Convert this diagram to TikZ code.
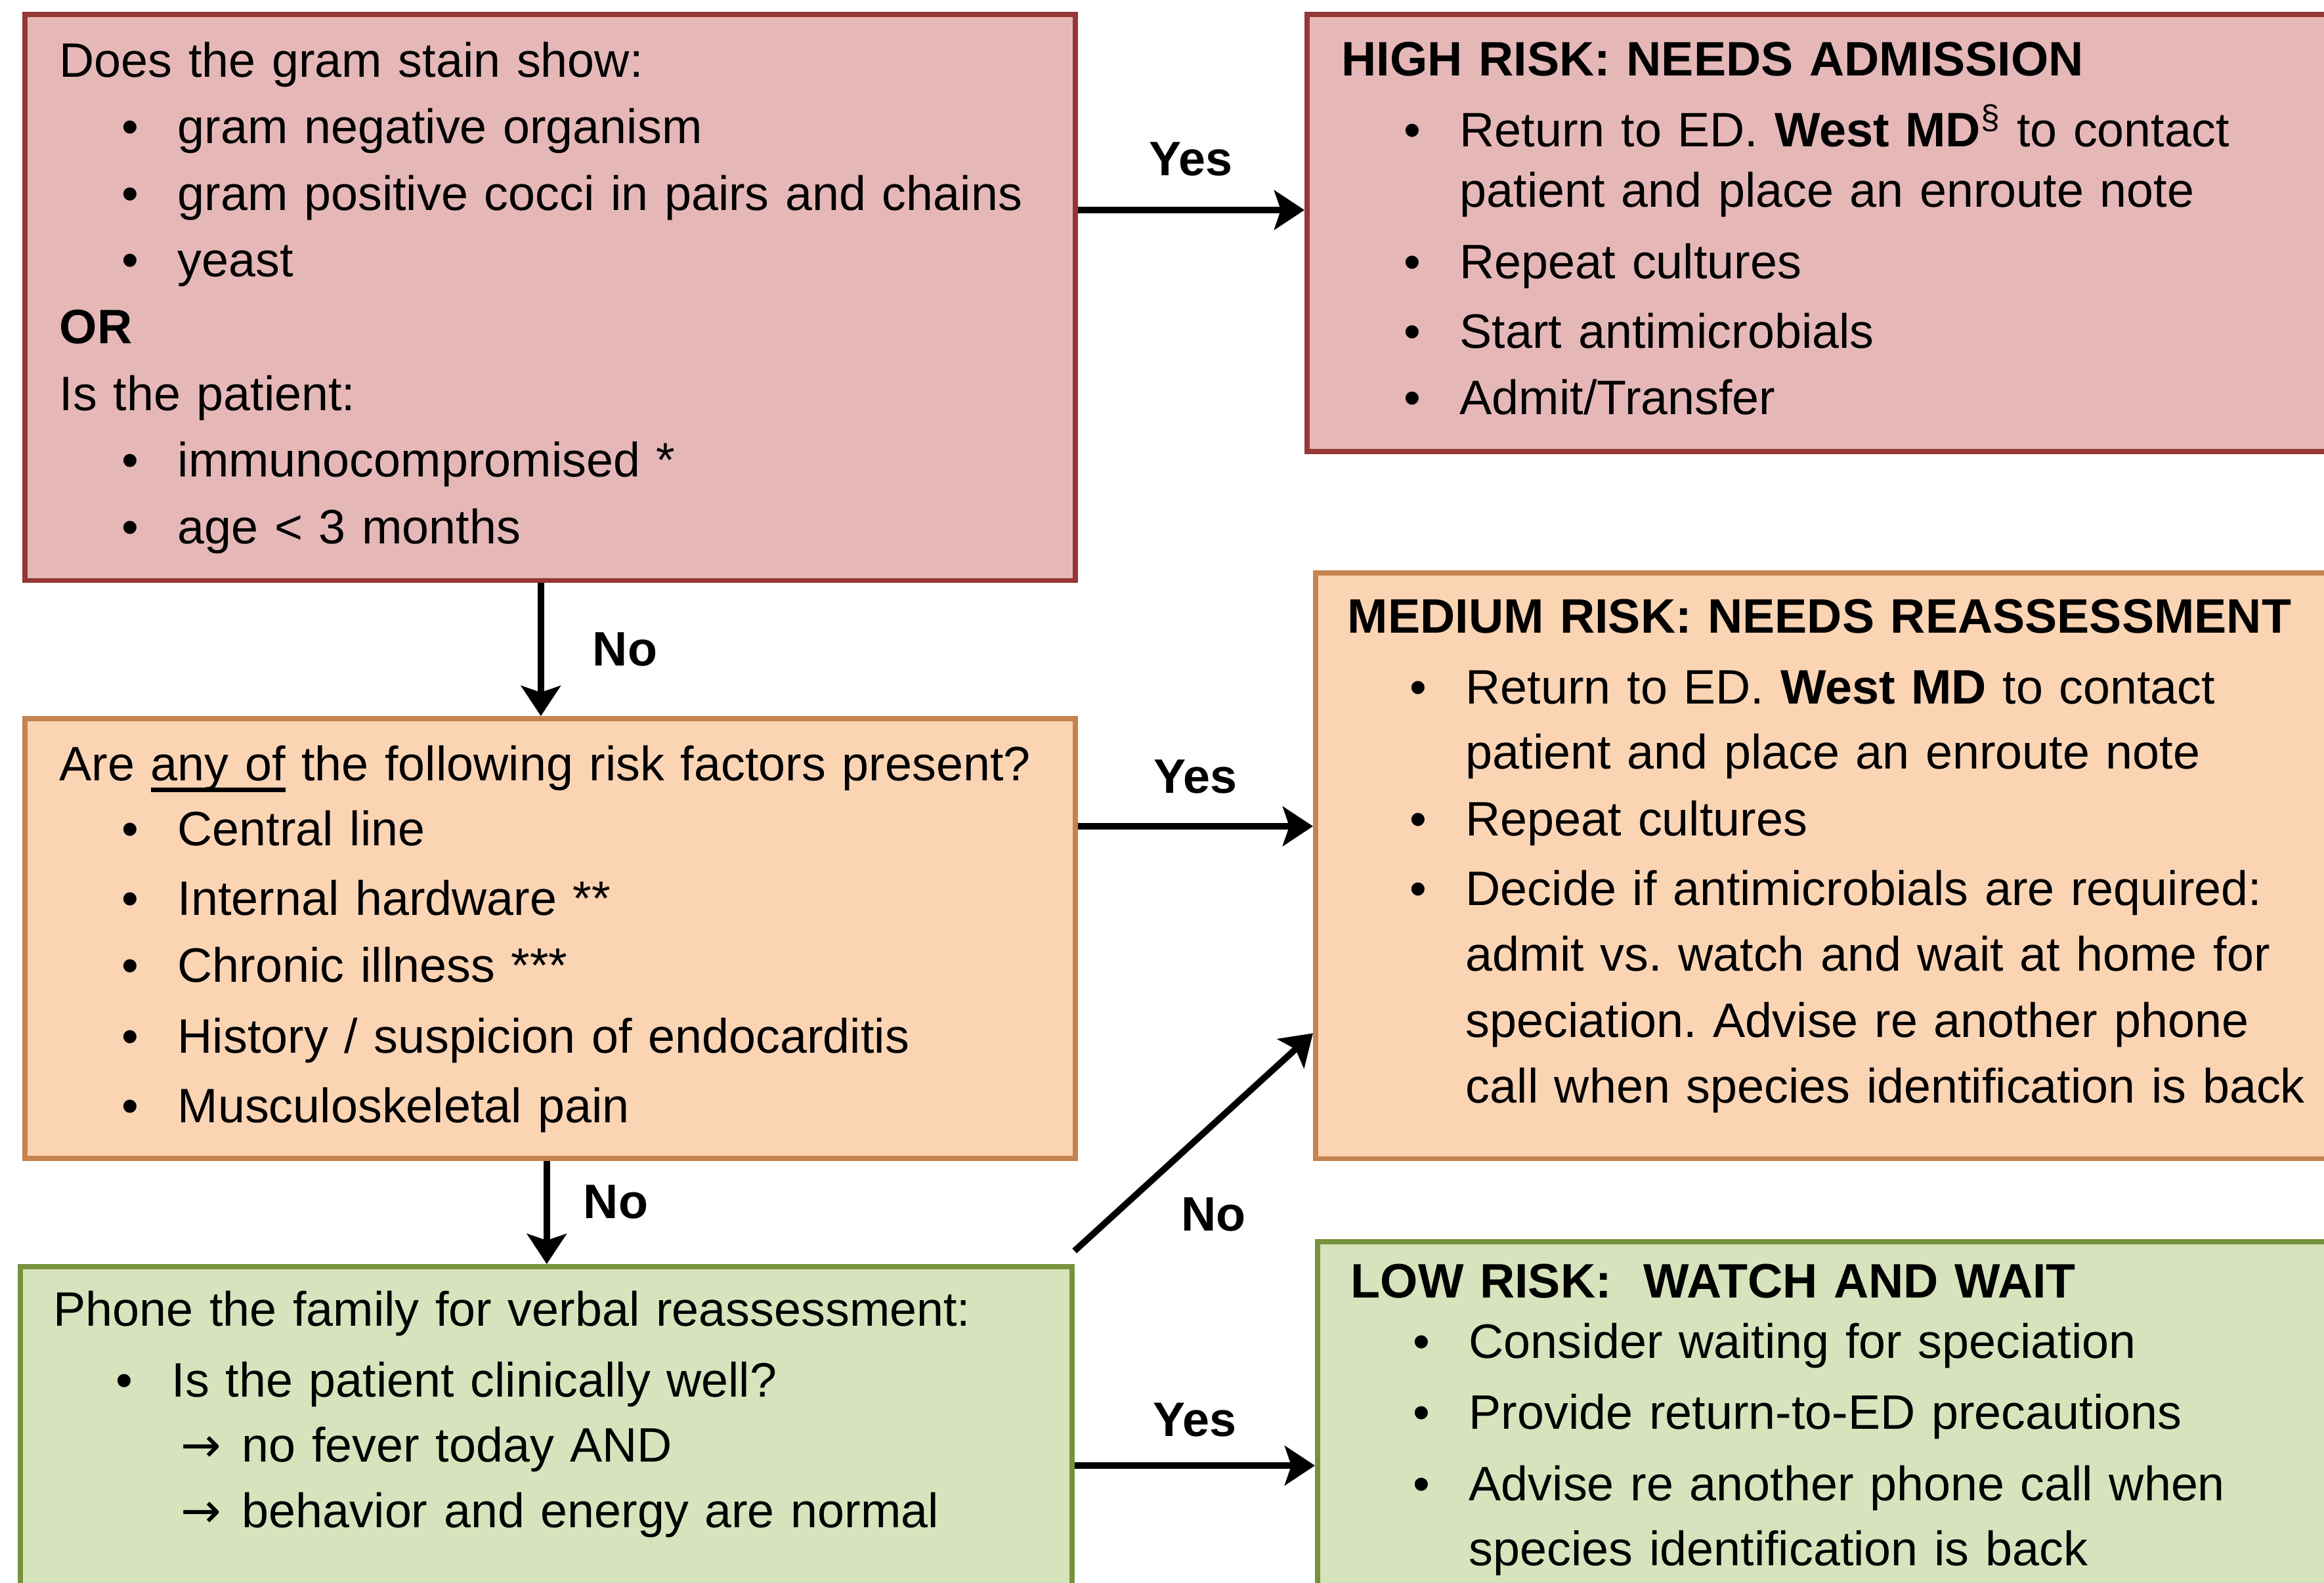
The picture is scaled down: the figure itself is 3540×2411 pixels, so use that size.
\documentclass[tikz,border=0pt]{standalone}
\usepackage{fontspec}
\setmainfont{Liberation Sans}
\newfontfamily\arrowfont{DejaVu Sans}
\usetikzlibrary{arrows.meta,positioning}

\definecolor{redline}{HTML}{953735}
\definecolor{redfill}{HTML}{E5B8B7}
\definecolor{orgline}{HTML}{C5834F}
\definecolor{orgfill}{HTML}{FBD4B4}
\definecolor{grnline}{HTML}{76923C}
\definecolor{grnfill}{HTML}{D7E3BC}

% bullet, continuation and arrow lines
\newcommand\bitem{\hspace*{0.95cm}\makebox[0.85cm][l]{\textbullet}}
\newcommand\bmore{\hspace*{1.80cm}}
\newcommand\barr{\hspace*{1.94cm}\makebox[0.93cm][l]{\arrowfont →}}
% thick underline
\newsavebox\ulbox
\newcommand\thickul[1]{\sbox\ulbox{#1}\rlap{\rule[-0.18cm]{\wd\ulbox}{0.07cm}}\usebox\ulbox}

\tikzset{
  box/.style={draw, line width=2.2pt, inner sep=0pt, anchor=north west},
  redbox/.style={box, draw=redline, fill=redfill},
  orgbox/.style={box, draw=orgline, fill=orgfill},
  grnbox/.style={box, draw=grnline, fill=grnfill},
  txt/.style={anchor=base west, inner sep=0pt, text width=16cm, align=left,
    font=\fontsize{20.96pt}{28.9pt}\selectfont\frenchspacing},
  lbl/.style={inner sep=0pt, font=\fontsize{20.96pt}{28.9pt}\selectfont\bfseries},
  arr/.style={-{Stealth[length=0.46cm,width=0.6cm,inset=0.1cm]}, line width=2.8pt}
}

\begin{document}
\begin{tikzpicture}[x=0.01cm, y=-0.01cm]
  \useasboundingbox (0,0) rectangle (3540,2411);
  \clip (0,0) rectangle (3540,2411);

  % boxes
  \node[redbox, minimum width=15.99cm, minimum height=8.62cm] (gram) at (34,18) {};
  \node[redbox, minimum width=16.13cm, minimum height=6.66cm] (high) at (1987,18) {};
  \node[orgbox, minimum width=15.99cm, minimum height=6.70cm] (risk) at (34,1091) {};
  \node[orgbox, minimum width=16.00cm, minimum height=8.92cm] (med) at (2000,869) {};
  \node[grnbox, minimum width=16.01cm, minimum height=6.00cm] (phone) at (27,1926) {};
  \node[grnbox, minimum width=15.97cm, minimum height=6.00cm] (low) at (2003,1888) {};

  % box texts
  \node[txt] (gramtxt) at ([shift={(56,99)}]gram.north west) {%
    Does the gram stain show:\\
    \bitem gram negative organism\\
    \bitem gram positive cocci in pairs and chains\\
    \bitem yeast\\
    \textbf{OR}\\
    Is the patient:\\
    \bitem immunocompromised *\\
    \bitem age < 3 months};

  \node[txt] (hightxt) at ([shift={(56,97)}]high.north west) {%
    \textbf{HIGH RISK: NEEDS ADMISSION}\\[1.9pt]
    \bitem Return to ED. \textbf{West MD}\textsuperscript{§} to contact\\[-2.6pt]
    \bmore patient and place an enroute note\\[1.9pt]
    \bitem Repeat cultures\\[1.3pt]
    \bitem Start antimicrobials\\
    \bitem Admit/Transfer};

  \node[txt] (risktxt) at ([shift={(56,98)}]risk.north west) {%
    Are \thickul{any of} the following risk factors present?\\[-0.6pt]
    \bitem Central line\\[1.3pt]
    \bitem Internal hardware **\\
    \bitem Chronic illness ***\\[1.9pt]
    \bitem History / suspicion of endocarditis\\[1.3pt]
    \bitem Musculoskeletal pain};

  \node[txt] (medtxt) at ([shift={(52,95)}]med.north west) {%
    \textbf{MEDIUM RISK: NEEDS REASSESSMENT}\\[1.9pt]
    \bitem Return to ED. \textbf{West MD} to contact\\[-0.6pt]
    \bmore patient and place an enroute note\\
    \bitem Repeat cultures\\[1.3pt]
    \bitem Decide if antimicrobials are required:\\[-0.6pt]
    \bmore admit vs. watch and wait at home for\\
    \bmore speciation. Advise re another phone\\[-0.6pt]
    \bmore call when species identification is back};

  \node[txt] (phonetxt) at ([shift={(54,94)}]phone.north west) {%
    Phone the family for verbal reassessment:\\[1.9pt]
    \bitem Is the patient clinically well?\\[-0.6pt]
    \barr no fever today AND\\[-0.6pt]
    \barr behavior and energy are normal};

  \node[txt] (lowtxt) at ([shift={(54,89)}]low.north west) {%
    \textbf{LOW RISK:~ WATCH AND WAIT}\\[-2.6pt]
    \bitem Consider waiting for speciation\\[1.9pt]
    \bitem Provide return-to-ED precautions\\[1.9pt]
    \bitem Advise re another phone call when\\[-0.6pt]
    \bmore species identification is back};

  % connectors
  \draw[arr] ([yshift=1.33cm]gram.east) -- ([yshift=1.33cm]gram.east -| high.west)
    node[lbl, midway, above=0.47cm] {Yes};
  \draw[arr] ([xshift=-0.14cm]gram.south) -- ([xshift=-0.14cm]gram.south |- risk.north)
    node[lbl, midway, right=0.74cm] {No};
  \draw[arr] ([yshift=1.71cm]risk.east) -- ([yshift=1.71cm]risk.east -| med.west)
    node[lbl, midway, above=0.45cm] {Yes};
  \draw[arr] ([xshift=-0.05cm]risk.south) -- ([xshift=-0.05cm]risk.south |- phone.north)
    node[lbl, pos=0.4, right=0.51cm] {No};
  \draw[arr] ([yshift=0.2cm]phone.north east) -- ([yshift=-2.55cm]med.west)
    node[lbl, midway, xshift=0.3cm, yshift=-1.1cm] {No};
  \draw[arr] ([yshift=-0.03cm]phone.east) -- ([yshift=-0.03cm]phone.east -| low.west)
    node[lbl, midway, above=0.39cm] {Yes};
\end{tikzpicture}
\end{document}
